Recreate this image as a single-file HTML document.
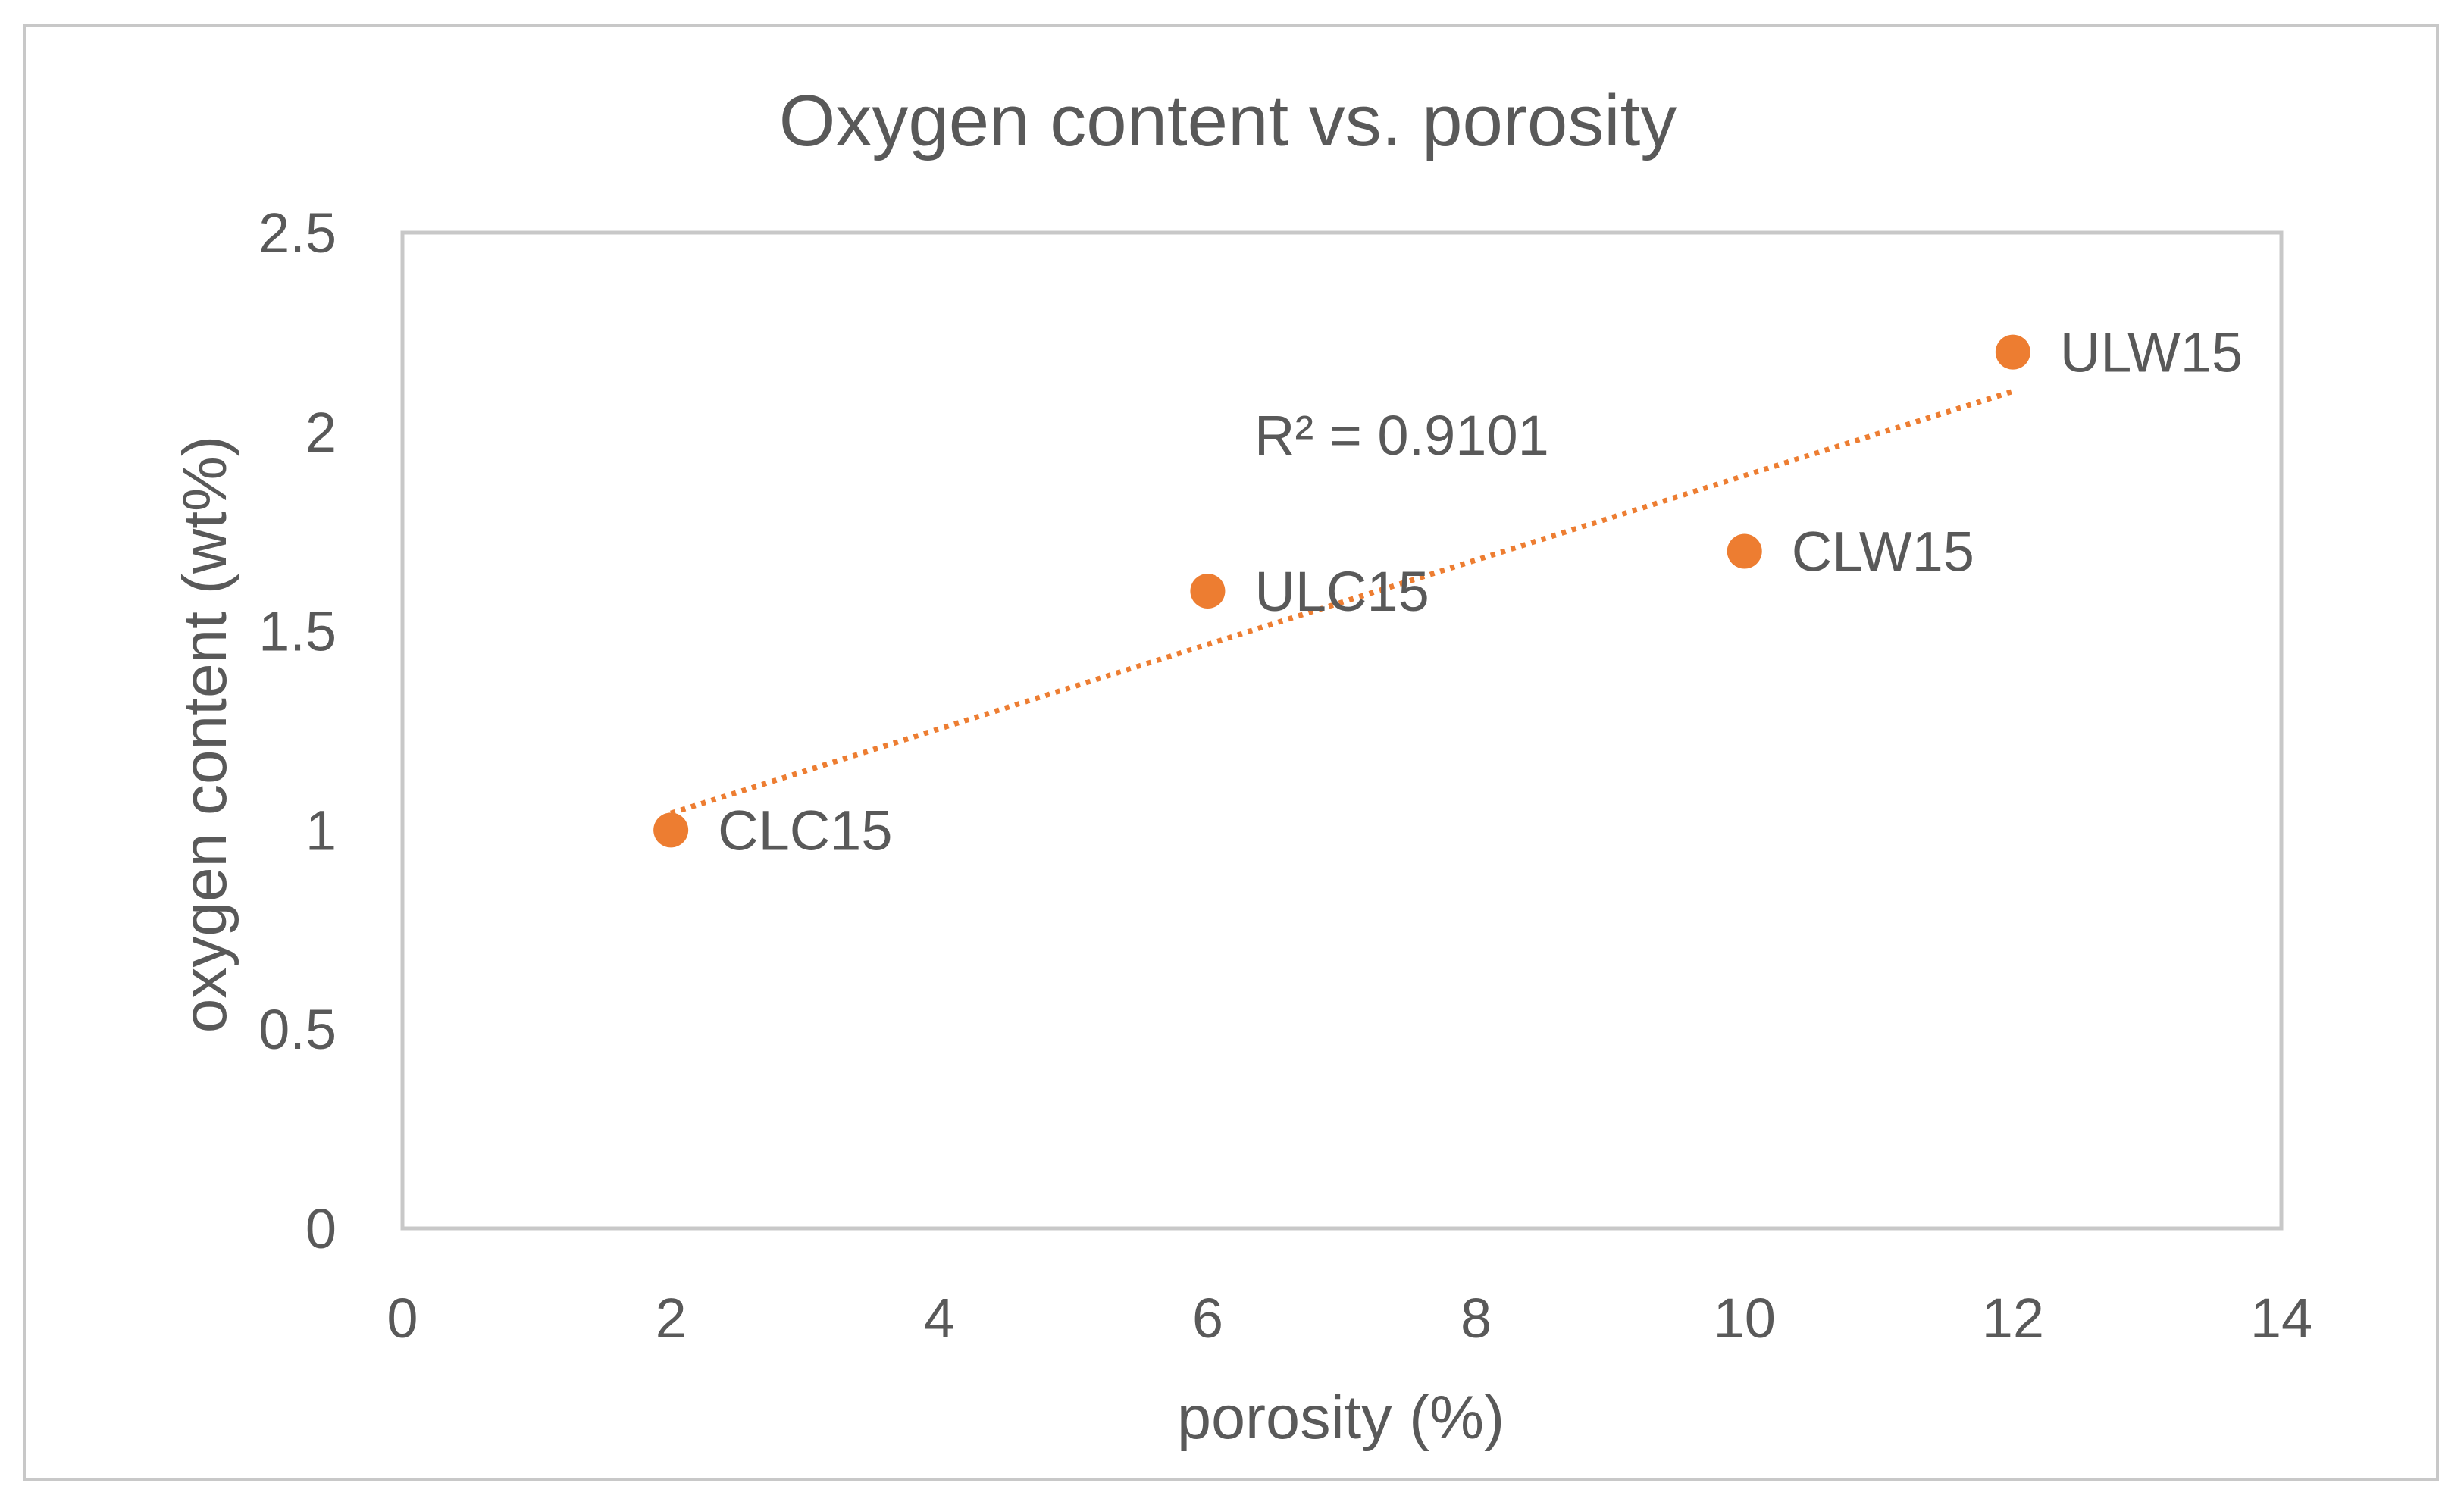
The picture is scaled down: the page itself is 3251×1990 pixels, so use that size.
<!DOCTYPE html>
<html><head><meta charset="utf-8"><style>
html,body{margin:0;padding:0;background:#fff}
svg{display:block}
text{font-family:"Liberation Sans",sans-serif;fill:#595959}
</style></head><body>
<svg id="chart" width="3251" height="1990" viewBox="0 0 3251 1990">
<rect x="32" y="34" width="3184" height="1918" fill="#fff" stroke="#c8c8c8" stroke-width="4"/>
<text x="1620" y="192" font-size="96" text-anchor="middle">Oxygen content vs. porosity</text>
<rect x="531" y="307" width="2479" height="1314" fill="none" stroke="#c8c8c8" stroke-width="5"/>
<g id="yticks"></g>
<g id="xticks"></g>
<line id="trend" stroke="#ED7D31" stroke-width="7" stroke-dasharray="6,8"/>
<g id="points"></g>
<text x="1655" y="600" font-size="74">R² = 0.9101</text>
<text x="1769" y="1898" font-size="81" text-anchor="middle">porosity (%)</text>
<text x="0" y="0" font-size="82" text-anchor="middle" transform="translate(298,969) rotate(-90)">oxygen content (wt%)</text>
</svg>
<script>
const categories = ["CLC15","ULC15","CLW15","ULW15"];
const xValues = [2,6,10,12];
const yValues = [1.0,1.6,1.7,2.2];
const xTicks = [0,2,4,6,8,10,12,14];
const yTicks = [0,0.5,1,1.5,2,2.5];
const NS="http://www.w3.org/2000/svg";
const X0=531,X1=3010,Y0=1621,Y1=307;
const sx=v=>X0+(v-0)/(14-0)*(X1-X0);
const sy=v=>Y0-(v-0)/(2.5-0)*(Y0-Y1);
function mk(tag,attrs){const e=document.createElementNS(NS,tag);for(const k in attrs)e.setAttribute(k,attrs[k]);return e;}
const yg=document.getElementById('yticks');
yTicks.forEach(t=>{const e=mk('text',{x:444,y:sy(t)+26,'font-size':74,'text-anchor':'end'});e.textContent=t;


yg.appendChild(e);});
const xg=document.getElementById('xticks');
xTicks.forEach(t=>{const e=mk('text',{x:sx(t),y:1765,'font-size':74,'text-anchor':'middle'});e.textContent=t;


xg.appendChild(e);});
const n=xValues.length;const mx=xValues.reduce((a,b)=>a+b)/n,my=yValues.reduce((a,b)=>a+b)/n;
let sxy=0,sxx=0;for(let i=0;i<n;i++){sxy+=(xValues[i]-mx)*(yValues[i]-my);sxx+=(xValues[i]-mx)**2;}
const m=sxy/sxx,b=my-m*mx;const xmin=Math.min(...xValues),xmax=Math.max(...xValues);
const tl=document.getElementById('trend');
tl.setAttribute('x1',sx(xmin));tl.setAttribute('y1',sy(m*xmin+b));tl.setAttribute('x2',sx(xmax));tl.setAttribute('y2',sy(m*xmax+b));
const pg=document.getElementById('points');
categories.forEach((c,i)=>{
const cx=sx(xValues[i]),cy=sy(yValues[i]);
const p=mk('circle',{cx:cx,cy:cy,r:23,fill:'#ED7D31'});


pg.appendChild(p);
const l=mk('text',{x:cx+62,y:cy+26,'font-size':74});l.textContent=c;


pg.appendChild(l);
});
</script>
</body></html>
